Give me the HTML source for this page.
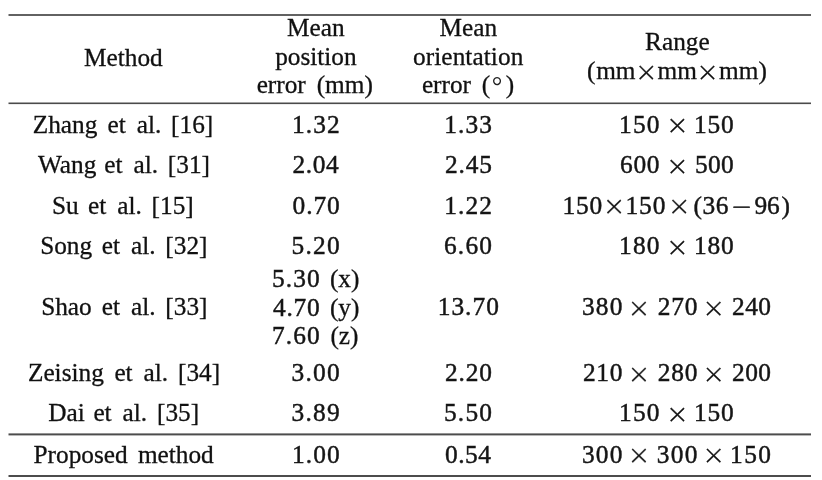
<!DOCTYPE html>
<html><head><meta charset="utf-8"><title>Table</title>
<style>
html,body{margin:0;padding:0;background:#fff;}
svg{display:block;filter:blur(0.3px);}
text{font-family:"Liberation Serif",serif;font-size:25.3px;fill:#111;white-space:pre;stroke:#111;stroke-width:0.3px;}
text.m,tspan.m{font-size:25.4px;fill:#151515;stroke:#151515;stroke-width:0.45px;}
text.d,tspan.d{fill:#222;stroke:none;}
text.x,tspan.x{font-family:"DejaVu Sans Light","DejaVu Sans",sans-serif;font-weight:200;fill:#111;stroke:#111;stroke-width:0.3px;}
text.x.mi,tspan.x.mi{stroke-width:0.55px;}
</style></head><body>
<svg width="822" height="480" viewBox="0 0 822 480">
<rect width="822" height="480" fill="#fff"/>
<rect x="8.5" y="14" width="802.5" height="2" fill="#626262"/>
<rect x="8.5" y="102.5" width="802.5" height="1.6" fill="#4a4a4a"/>
<rect x="8.5" y="433.4" width="802.5" height="2" fill="#4c4c4c"/>
<rect x="8.5" y="475" width="802.5" height="2" fill="#4c4c4c"/>
<text><tspan class="t" x="84.00" y="65.90">Method</tspan></text>
<text><tspan class="t" x="287.00" y="35.70">Mean </tspan><tspan class="t" x="275.15" y="64.50">position </tspan><tspan class="t" x="256.65" y="93.00">error </tspan><tspan class="t" x="316.70" y="93.00">(mm)</tspan></text>
<text><tspan class="t" x="439.50" y="35.70">Mean </tspan><tspan class="t" x="413.00" y="64.50" style="letter-spacing:0.075px">orientation </tspan><tspan class="t" x="421.90" y="93.00">error </tspan><tspan class="t" x="481.80" y="93.00">(</tspan><tspan class="d" x="491.70" y="94.50" style="font-size:26.50px">°</tspan><tspan class="t" x="505.65" y="93.00">)</tspan></text>
<text><tspan class="t" x="645.12" y="50.00">Range</tspan></text>
<text><tspan class="t" x="587.05" y="78.80">(</tspan><tspan class="t" x="596.20" y="78.80">mm</tspan><tspan class="x" x="635.10" y="80.52" style="font-size:26.92px">×</tspan><tspan class="t" x="657.55" y="78.80">mm</tspan><tspan class="x" x="696.20" y="80.52" style="font-size:26.92px">×</tspan><tspan class="t" x="719.05" y="78.80">mm)</tspan></text>
<text><tspan class="t" x="32.77" y="132.70">Zhang </tspan><tspan class="t" x="107.50" y="132.70">et </tspan><tspan class="t" x="136.70" y="132.70">al. </tspan><tspan class="t" x="171.10" y="132.70">[16]</tspan></text>
<text><tspan class="t" x="38.02" y="173.10">Wang </tspan><tspan class="t" x="104.25" y="173.10">et </tspan><tspan class="t" x="133.45" y="173.10">al. </tspan><tspan class="t" x="167.85" y="173.10">[31]</tspan></text>
<text><tspan class="t" x="52.02" y="213.50">Su </tspan><tspan class="t" x="88.00" y="213.50">et </tspan><tspan class="t" x="117.20" y="213.50">al. </tspan><tspan class="t" x="151.60" y="213.50">[15]</tspan></text>
<text><tspan class="t" x="40.15" y="253.80">Song </tspan><tspan class="t" x="101.75" y="253.80">et </tspan><tspan class="t" x="130.95" y="253.80">al. </tspan><tspan class="t" x="165.35" y="253.80">[32]</tspan></text>
<text><tspan class="t" x="41.15" y="315.30">Shao </tspan><tspan class="t" x="101.75" y="315.30">et </tspan><tspan class="t" x="130.95" y="315.30">al. </tspan><tspan class="t" x="165.35" y="315.30">[33]</tspan></text>
<text><tspan class="t" x="27.95" y="381.00">Zeising </tspan><tspan class="t" x="114.40" y="381.00">et </tspan><tspan class="t" x="143.60" y="381.00">al. </tspan><tspan class="t" x="178.00" y="381.00">[34]</tspan></text>
<text><tspan class="t" x="48.15" y="421.20">Dai </tspan><tspan class="t" x="93.40" y="421.20">et </tspan><tspan class="t" x="122.60" y="421.20">al. </tspan><tspan class="t" x="157.00" y="421.20">[35]</tspan></text>
<text><tspan class="t" x="33.55" y="462.50">Proposed </tspan><tspan class="t" x="137.90" y="462.50">method</tspan></text>
<text><tspan class="m" x="291.90" y="132.70" style="letter-spacing:1.117px">1.32</tspan></text>
<text><tspan class="m" x="292.60" y="173.10" style="letter-spacing:0.550px">2.04</tspan></text>
<text><tspan class="m" x="292.60" y="213.50" style="letter-spacing:0.883px">0.70</tspan></text>
<text><tspan class="m" x="291.60" y="253.80" style="letter-spacing:1.217px">5.20</tspan></text>
<text><tspan class="m" x="291.60" y="381.00" style="letter-spacing:1.217px">3.00</tspan></text>
<text><tspan class="m" x="291.60" y="421.20" style="letter-spacing:1.217px">3.89</tspan></text>
<text><tspan class="m" x="291.90" y="462.50" style="letter-spacing:1.117px">1.00</tspan></text>
<text><tspan class="m" x="272.00" y="286.75" style="letter-spacing:1.083px">5.30 </tspan><tspan class="t" x="329.90" y="286.75">(x) </tspan><tspan class="m" x="273.00" y="315.50" style="letter-spacing:0.750px">4.70 </tspan><tspan class="t" x="329.90" y="315.50">(y) </tspan><tspan class="m" x="272.00" y="344.30" style="letter-spacing:1.083px">7.60 </tspan><tspan class="t" x="330.40" y="344.30">(z)</tspan></text>
<text><tspan class="m" x="444.20" y="132.70" style="letter-spacing:1.100px">1.33</tspan></text>
<text><tspan class="m" x="445.00" y="173.10" style="letter-spacing:0.833px">2.45</tspan></text>
<text><tspan class="m" x="444.20" y="213.50" style="letter-spacing:1.100px">1.22</tspan></text>
<text><tspan class="m" x="444.00" y="253.80" style="letter-spacing:1.167px">6.60</tspan></text>
<text><tspan class="m" x="437.70" y="315.30" style="letter-spacing:1.013px">13.70</tspan></text>
<text><tspan class="m" x="445.00" y="381.00" style="letter-spacing:0.833px">2.20</tspan></text>
<text><tspan class="m" x="444.00" y="421.20" style="letter-spacing:1.167px">5.50</tspan></text>
<text><tspan class="m" x="445.00" y="462.50" style="letter-spacing:0.500px">0.54</tspan></text>
<text><tspan class="m" x="619.00" y="132.70" style="letter-spacing:1.200px">150 </tspan><tspan class="x" x="666.05" y="134.48" style="font-size:27.12px">× </tspan><tspan class="m" x="694.00" y="132.70" style="letter-spacing:0.750px">150</tspan></text>
<text><tspan class="m" x="620.00" y="173.10" style="letter-spacing:0.700px">600 </tspan><tspan class="x" x="666.05" y="174.88" style="font-size:27.12px">× </tspan><tspan class="m" x="695.00" y="173.10" style="letter-spacing:0.250px">500</tspan></text>
<text><tspan class="m" x="619.00" y="253.80" style="letter-spacing:1.200px">180 </tspan><tspan class="x" x="666.05" y="255.58" style="font-size:27.12px">× </tspan><tspan class="m" x="694.00" y="253.80" style="letter-spacing:0.750px">180</tspan></text>
<text><tspan class="m" x="619.00" y="421.20" style="letter-spacing:1.200px">150 </tspan><tspan class="x" x="666.05" y="422.98" style="font-size:27.12px">× </tspan><tspan class="m" x="694.00" y="421.20" style="letter-spacing:0.750px">150</tspan></text>
<text><tspan class="m" x="581.90" y="315.30" style="letter-spacing:1.250px">380 </tspan><tspan class="x" x="627.40" y="317.14" style="font-size:27.31px">× </tspan><tspan class="m" x="657.70" y="315.30" style="letter-spacing:0.800px">270 </tspan><tspan class="x" x="702.20" y="317.14" style="font-size:27.31px">× </tspan><tspan class="m" x="732.10" y="315.30" style="letter-spacing:0.400px">240</tspan></text>
<text><tspan class="m" x="582.90" y="381.00" style="letter-spacing:0.750px">210 </tspan><tspan class="x" x="627.40" y="382.84" style="font-size:27.31px">× </tspan><tspan class="m" x="657.70" y="381.00" style="letter-spacing:0.800px">280 </tspan><tspan class="x" x="702.20" y="382.84" style="font-size:27.31px">× </tspan><tspan class="m" x="732.10" y="381.00" style="letter-spacing:0.400px">200</tspan></text>
<text><tspan class="m" x="581.90" y="462.50" style="letter-spacing:1.250px">300 </tspan><tspan class="x" x="627.40" y="464.34" style="font-size:27.31px">× </tspan><tspan class="m" x="656.70" y="462.50" style="letter-spacing:1.300px">300 </tspan><tspan class="x" x="702.20" y="464.34" style="font-size:27.31px">× </tspan><tspan class="m" x="730.10" y="462.50" style="letter-spacing:1.400px">150</tspan></text>
<text><tspan class="m" x="562.50" y="213.50" style="letter-spacing:0.800px">150</tspan><tspan class="x" x="602.75" y="215.28" style="font-size:27.12px">×</tspan><tspan class="m" x="625.40" y="213.50" style="letter-spacing:0.950px">150</tspan><tspan class="x" x="667.80" y="215.34" style="font-size:27.31px">×</tspan><tspan class="m" x="693.40" y="213.50">(</tspan><tspan class="m" x="702.40" y="213.50" style="letter-spacing:0.700px">36</tspan><tspan class="x mi" x="730.80" y="215.10" style="font-size:25.31px">−</tspan><tspan class="m" x="754.50" y="213.50" style="letter-spacing:-0.300px">96</tspan><tspan class="m" x="781.45" y="213.50">)</tspan></text>
</svg></body></html>
